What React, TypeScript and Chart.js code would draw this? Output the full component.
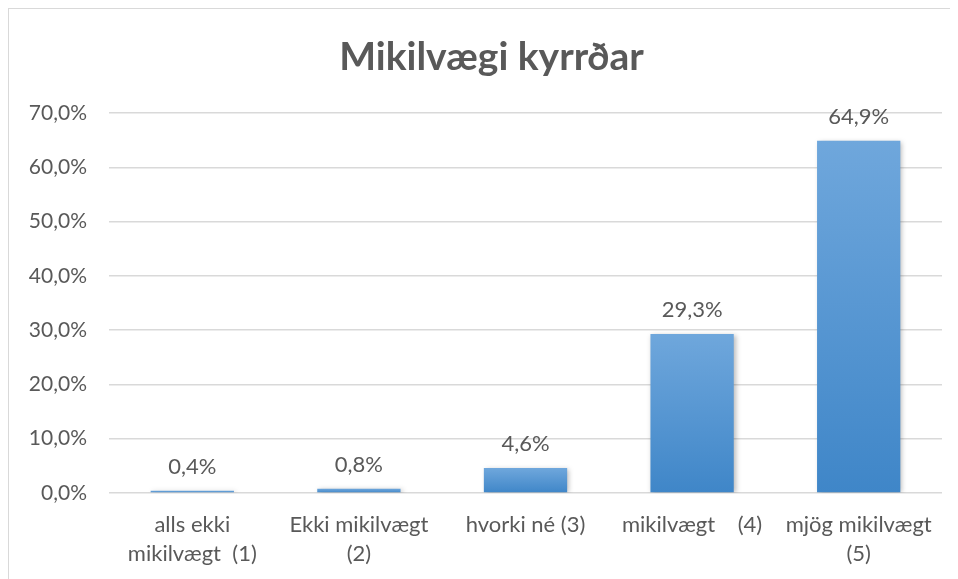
import React, { useEffect, useRef } from "react";
import { Chart, registerables } from "chart.js";

Chart.register(...registerables);

const TITLE = "Mikilvægi kyrrðar";
const categories: (string | string[])[] = [
  ["alls ekki", "mikilvægt  (1)"],
  ["Ekki mikilvægt", "(2)"],
  "hvorki né (3)",
  "mikilvægt    (4)",
  ["mjög mikilvægt", "(5)"],
];
const values = [0.4, 0.8, 4.6, 29.3, 64.9];
const yMin = 0;
const yMax = 70;
const yStep = 10;

const TEXT = "#595959";
const FONT = "Lato, 'Open Sans', sans-serif";

const fmt = (v: number) => v.toFixed(1).replace(".", ",") + "%";

export default function App() {
  const ref = useRef<HTMLCanvasElement | null>(null);

  useEffect(() => {
    if (!ref.current) return;
    const shadowPlugin = {
      id: "barShadow",
      beforeDatasetsDraw(chart: any) {
        const c = chart.ctx;
        c.save();
        c.shadowColor = "rgba(0,0,0,0.28)";
        c.shadowBlur = 5;
        c.shadowOffsetX = 2;
        c.shadowOffsetY = 1;
      },
      afterDatasetsDraw(chart: any) {
        chart.ctx.restore();
      },
    };
    const labelPlugin = {
      id: "valueLabels",
      afterDraw(chart: any) {
        const c = chart.ctx;
        const meta = chart.getDatasetMeta(0);
        c.save();
        c.fillStyle = TEXT;
        c.font = `22px ${FONT}`;
        c.textAlign = "center";
        c.textBaseline = "middle";
        meta.data.forEach((el: any, i: number) => {
          c.fillText(fmt(values[i]), el.x, el.y - 24);
        });
        // title
        c.font = `bold 39px ${FONT}`;
        c.fillText(TITLE, chart.width / 2 + 8, 48);
        c.restore();
      },
    };
    const chart = new Chart(ref.current, {
      type: "bar",
      data: {
        labels: categories,
        datasets: [
          {
            data: values,
            backgroundColor: (ctx: any) => {
              const ch = ctx.chart;
              const sc = ch.scales?.y;
              if (!ch.chartArea || !sc) return "#5b9bd5";
              const v = ctx.raw as number;
              const top = sc.getPixelForValue(v);
              const bottom = sc.getPixelForValue(0);
              if (bottom - top < 1) return "#6aa4dc";
              const g = ch.ctx.createLinearGradient(0, top, 0, bottom);
              g.addColorStop(0, "#6fa7dc");
              g.addColorStop(1, "#3f86c8");
              return g;
            },
            borderWidth: 0,
            barPercentage: 1,
            categoryPercentage: 0.5,
          },
        ],
      },
      options: {
        responsive: false,
        animation: false,
        layout: { padding: { left: 8, right: 16, top: 104, bottom: 0 } },
        plugins: {
          legend: { display: false },
          tooltip: { enabled: false },
          title: { display: false },
        },
        scales: {
          y: {
            min: yMin,
            max: yMax,
            ticks: {
              stepSize: yStep,
              color: TEXT,
              font: { family: FONT, size: 21 },
              padding: 22,
              callback: (v: any) => fmt(Number(v)),
            },
            grid: { color: "#d9d9d9", lineWidth: 1.5, drawTicks: false },
            border: { display: false },
            afterFit: (s: any) => {
              s.width = 92;
            },
          },
          x: {
            ticks: {
              color: TEXT,
              font: { family: FONT, size: 22, lineHeight: 1.34 },
              padding: 17,
              maxRotation: 0,
              autoSkip: false,
            },
            grid: { display: false, drawTicks: false },
            border: { display: false },
            afterFit: (s: any) => {
              s.height = 86;
            },
          },
        },
      },
      plugins: [shadowPlugin, labelPlugin],
    } as any);
    return () => chart.destroy();
  }, []);

  return (
    <div
      style={{
        width: 949,
        height: 570,
        borderTop: "1px solid #d9d9d9",
        borderLeft: "1px solid #d9d9d9",
        background: "#fff",
      }}
    >
      <canvas ref={ref} width={949} height={570} style={{ display: "block" }} />
    </div>
  );
}
